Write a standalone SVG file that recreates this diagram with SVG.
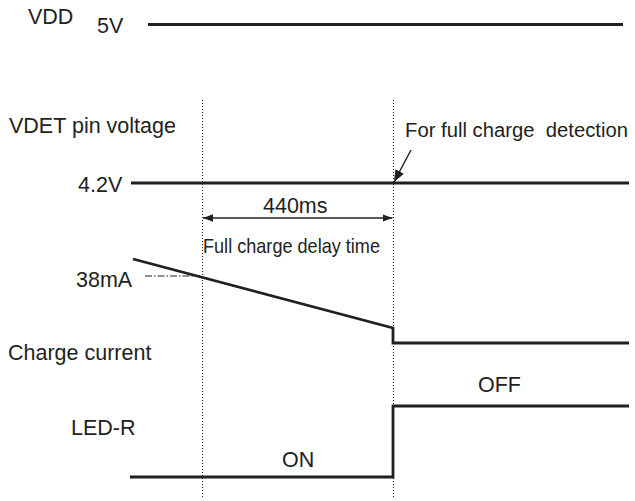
<svg xmlns="http://www.w3.org/2000/svg" width="635" height="501" viewBox="0 0 635 501">
<defs>
<style>
text{font-family:"Liberation Sans",Arial,Helvetica,sans-serif;font-size:21.5px;fill:#231f20}
.sig{fill:none;stroke:#231f20;stroke-width:2.8;stroke-linejoin:miter}
.dot{fill:none;stroke:#231f20;stroke-width:1;stroke-dasharray:1 2}
.thin{fill:none;stroke:#231f20;stroke-width:1.4}
.dd{fill:none;stroke:#231f20;stroke-width:1;stroke-dasharray:7 2 1.5 2}
</style>
<marker id="ah" viewBox="0 0 10 10" refX="10" refY="5" markerWidth="10" markerHeight="10" markerUnits="userSpaceOnUse" orient="auto-start-reverse">
<path d="M0,1.2 L10,5 L0,8.8 Z" fill="#231f20"/>
</marker>
<marker id="ah2" viewBox="0 0 10 10" refX="10" refY="5" markerWidth="12" markerHeight="12" markerUnits="userSpaceOnUse" orient="auto">
<path d="M0,1 L10,5 L0,9 Z" fill="#231f20"/>
</marker>
</defs>
<rect width="635" height="501" fill="#ffffff"/>

<g id="labels">
<text x="28" y="24">VDD</text>
<text x="97" y="33">5V</text>
<text x="9" y="133">VDET pin voltage</text>
<text x="78" y="192">4.2V</text>
<text x="76" y="287">38mA</text>
<text x="8" y="360">Charge current</text>
<text x="71" y="435">LED-R</text>
<text x="282" y="467">ON</text>
<text x="478" y="392">OFF</text>
<text x="405" y="137" style="font-size:20px" textLength="223" lengthAdjust="spacingAndGlyphs">For full charge&#160; detection</text>
<text x="263" y="213">440ms</text>
<text x="203" y="253" style="font-size:21px" textLength="177" lengthAdjust="spacingAndGlyphs">Full charge delay time</text>
</g>

<g id="guides">
<line class="dot" x1="202.5" y1="100" x2="202.5" y2="498"/>
<line class="dot" x1="393.5" y1="100" x2="393.5" y2="498"/>
</g>

<g id="signals">
<line id="vdd" class="sig" x1="148" y1="24.5" x2="623" y2="24.5"/>
<line id="vdet" class="sig" x1="131" y1="183" x2="629" y2="183"/>
<path id="current" class="sig" d="M133,259 L393,328 L393,343 L629,343"/>
<path id="led" class="sig" d="M130,477 L393,477 L393,406 L629,406"/>
</g>

<g id="connectors">
<line class="thin" x1="203" y1="218" x2="392.5" y2="218" marker-start="url(#ah)" marker-end="url(#ah)"/>
<line class="thin" x1="411" y1="150" x2="394" y2="182" marker-end="url(#ah2)"/>
<line class="dd" x1="145" y1="276" x2="200" y2="276"/>
</g>
</svg>
